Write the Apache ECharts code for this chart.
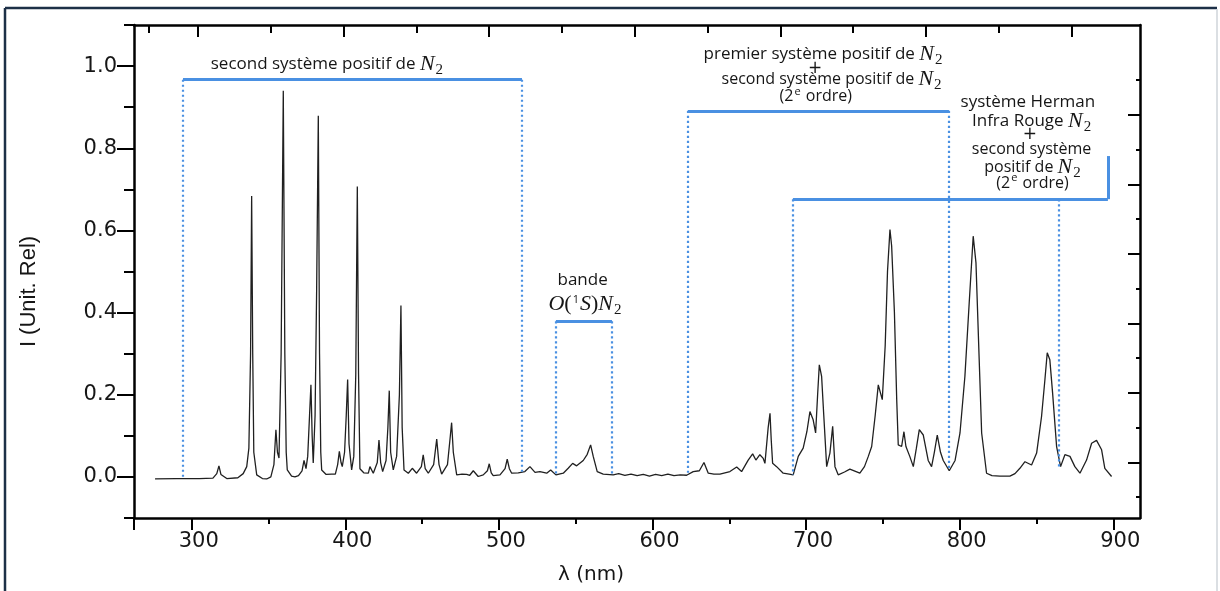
<!DOCTYPE html>
<html>
<head>
<meta charset="utf-8">
<script src="https://cdn.jsdelivr.net/npm/echarts@6/dist/echarts.min.js"></script>
<style>
  html, body {margin: 0; padding: 0; background: #fff;}
  #chart {width: 1220px; height: 591px;}
</style>
</head>
<body>
<div id="chart"></div>
<script>
// spectrum: [lambda (nm), I (unit. rel)]
const uvBand = [
  [276.1, -0.005], [290, -0.004], [305, -0.004], [313.8, -0.003], [316.3, 0.008], [317.7, 0.027], [319.0, 0.006],
  [322.8, -0.004], [330, -0.002], [333.5, 0.008], [335.8, 0.025], [337.2, 0.07], [338.3, 0.30], [339.0, 0.684],
  [339.7, 0.30], [340.4, 0.06], [342.3, 0.005], [346, -0.004], [348.8, -0.005], [351.5, 0.0], [353.5, 0.03],
  [354.8, 0.115], [355.8, 0.06], [356.8, 0.046], [358.2, 0.30], [359.6, 0.94], [360.6, 0.30], [361.5, 0.06],
  [362.2, 0.017], [365, 0.002], [367.2, 0.0],
]
const violetBand = [
  [369.5, 0.003], [371.8, 0.015], [373.1, 0.04], [374.4, 0.02], [375.5, 0.05], [376.7, 0.15], [377.6, 0.224],
  [378.4, 0.10], [379.1, 0.034], [380.3, 0.15], [381.3, 0.45], [382.4, 0.879], [383.2, 0.30], [384.0, 0.06],
  [384.6, 0.017], [387.5, 0.006], [391.1, 0.007], [393.5, 0.007], [395.0, 0.03], [396.1, 0.062], [397.2, 0.035],
  [398.0, 0.025], [399.5, 0.06], [400.6, 0.15], [401.5, 0.237], [402.4, 0.08], [404.1, 0.017], [405.5, 0.05],
  [406.8, 0.25], [407.8, 0.707], [408.6, 0.25], [409.5, 0.02], [412, 0.01], [415.0, 0.009], [416.0, 0.025],
  [418.2, 0.009], [420.8, 0.035], [421.9, 0.09], [423.0, 0.035], [424.3, 0.013], [426.5, 0.04], [427.7, 0.12],
  [428.6, 0.21], [429.5, 0.06], [431.2, 0.017], [433.4, 0.05], [435.2, 0.20], [436.2, 0.417], [437.0, 0.12],
  [438.2, 0.017], [441, 0.009], [443.6, 0.021], [446.4, 0.009], [449.5, 0.025], [450.7, 0.054], [452.0, 0.02],
  [454.0, 0.009], [457.5, 0.03], [459.5, 0.092], [461.0, 0.03], [462.7, 0.007], [466.5, 0.03], [468.1, 0.09],
  [469.2, 0.132], [470.3, 0.06], [472.5, 0.005],
]
const visibleBand = [
  [476, 0.007], [479.0, 0.006], [481, 0.004], [483.3, 0.015], [486.5, 0.001], [489.8, 0.005], [492.5, 0.015],
  [493.7, 0.032], [495, 0.01], [496.3, 0.003], [500.7, 0.005], [504, 0.02], [505.4, 0.043], [506.8, 0.02],
  [508.3, 0.009], [512.6, 0.01], [516.9, 0.013], [520.2, 0.025], [523.5, 0.011], [526.7, 0.013], [531.1, 0.009],
  [533.7, 0.017], [537.1, 0.005], [541.9, 0.009], [545.1, 0.021], [548.0, 0.033], [550.6, 0.027], [554.9, 0.04],
  [557.5, 0.055], [559.7, 0.078], [561.4, 0.05], [564.0, 0.013], [567.9, 0.007], [574.4, 0.005], [578, 0.008],
  [582, 0.004], [586, 0.007], [590, 0.003], [594, 0.006], [598, 0.002], [602, 0.006], [606, 0.003], [610, 0.007],
  [614, 0.003], [618, 0.005], [622.2, 0.004], [626.5, 0.013], [630.5, 0.015], [633.5, 0.035], [636.3, 0.009],
  [640, 0.007], [643.9, 0.007], [650.4, 0.013], [654.8, 0.024], [658.0, 0.013], [662.3, 0.041], [665.2, 0.056],
  [667.3, 0.041], [669.9, 0.054], [672.1, 0.045], [673.2, 0.033], [675.3, 0.12], [676.5, 0.155], [677.3, 0.09],
  [678.2, 0.033], [680.8, 0.025], [685.1, 0.009], [689, 0.007],
]
const nirBand = [
  [691.6, 0.005], [694.9, 0.05], [698.1, 0.07], [700.5, 0.11], [702.5, 0.159], [704.6, 0.139], [706.2, 0.107],
  [707.5, 0.2], [708.6, 0.273], [710.1, 0.245], [711.5, 0.15], [713.4, 0.025], [715.5, 0.058], [717.3, 0.123],
  [718.8, 0.025], [720.9, 0.005], [725, 0.012], [728.5, 0.019], [735.0, 0.009], [738, 0.025], [740.5, 0.05],
  [742.7, 0.074], [745, 0.15], [747.0, 0.224], [749.6, 0.188], [751.5, 0.32], [753.0, 0.5], [754.6, 0.602],
  [755.7, 0.562], [757.5, 0.4], [759.0, 0.188], [760.0, 0.078], [762.2, 0.074], [763.7, 0.11], [765.0, 0.074],
  [767.5, 0.05], [769.8, 0.025], [771.8, 0.07], [773.7, 0.115], [776.3, 0.102], [779.5, 0.04], [781.7, 0.025],
  [783.5, 0.06], [785.4, 0.102], [787.5, 0.06], [789.3, 0.04], [793.2, 0.015], [797, 0.04], [800.2, 0.107],
  [803.4, 0.245], [806.2, 0.424], [808.8, 0.586], [810.6, 0.521], [812.7, 0.285], [814.3, 0.107], [817.5, 0.009],
  [821, 0.003], [826.2, 0.002], [832.7, 0.002], [836, 0.008], [839.2, 0.021], [842.5, 0.037], [846.8, 0.029],
  [850.1, 0.058], [853.3, 0.147], [855.5, 0.237], [857.0, 0.302], [858.7, 0.285], [860.5, 0.204], [863.1, 0.074],
  [865.7, 0.025], [868.5, 0.054], [871.8, 0.05], [875.0, 0.025], [878.3, 0.009], [882.6, 0.041], [885.9, 0.082],
  [889.1, 0.089], [892.4, 0.066], [894.5, 0.021], [898.9, 0.001],
]

// axes
const xMin = 262.4
const xMax = 917.4
const wlLabels = [300, 400, 500, 600, 700, 800, 900]
const wlMinor = [350, 450, 550, 650, 750, 850]
const iLabels = [0, 0.2, 0.4, 0.6, 0.8, 1.0]
const iMinor = [-0.1, 0.1, 0.3, 0.5, 0.7, 0.9, 1.1]
// frame ticks of the original plot (top and right), in tick units
const topMin = -0.879
const topMax = 12.94
const topLong = [0, 2, 4, 6, 8, 10, 12]
const topShort = [-0.673, 1, 3, 5, 7, 9, 11]
const rightMin = -0.604
const rightMax = 13.583
const rightLong = [1, 3, 5, 7, 9, 11]
const rightShort = [0, 2, 4, 6, 8, 10, 12]

// brackets, in (nm, I)
const bracketSolid = [
  [[294.3, 0.967], [515.0, 0.967]],
  [[537.1, 0.379], [573.6, 0.379]],
  [[623.1, 0.891], [793.0, 0.891]],
  [[691.4, 0.676], [896.5, 0.676]],
  [[896.5, 0.676], [896.5, 0.781]],
]
const bracketDotted = [
  [[294.3, 0.967], [294.3, -0.004]],
  [[515.0, 0.967], [515.0, 0.01]],
  [[537.1, 0.379], [537.1, 0.005]],
  [[573.6, 0.379], [573.6, 0.005]],
  [[623.1, 0.891], [623.1, 0.01]],
  [[793.0, 0.891], [793.0, 0.022]],
  [[691.4, 0.676], [691.4, 0.005]],
  [[864.6, 0.676], [864.6, 0.025]],
]

const notes = [
  {at: [388, 1.005], text: '{t|second système positif de }{n|N}{s|2}'},
  {at: [554.5, 0.48], text: '{t|bande}'},
  {at: [556, 0.42], text: '{n|O}{r|(}{up|1}{n|S}{r|)}{n|N}{s|2}'},
  {at: [711, 1.029], text: '{t|premier système positif de }{n|N}{s|2}'},
  {at: [705.8, 0.995], text: '{p|+}'},
  {at: [716.6, 0.968], text: '{m|second système positif de }{n|N}{s|2}'},
  {at: [706.3, 0.925], text: '{m|(2}{up|e}{m| ordre)}'},
  {at: [844.4, 0.912], text: '{t|système Herman}'},
  {at: [846.8, 0.866], text: '{t|Infra Rouge }{n|N}{s|2}'},
  {at: [845.7, 0.834], text: '{p|+}'},
  {at: [846.8, 0.798], text: '{m|second système}'},
  {at: [847.4, 0.754], text: '{m|positif de }{n|N}{s|2}'},
  {at: [847.4, 0.715], text: '{m|(2}{up|e}{m| ordre)}'},
]

const blue = '#4a90e2'
const ink = '#161616'
const axisLine = {show: true, onZero: false, lineStyle: {color: '#000', width: 2.5}}
const noLine = {show: false, onZero: false}
const tickStyle = {color: '#000', width: 2}

const spectrum = [].concat(uvBand, violetBand, visibleBand, nirBand)

const markLines = [].concat(
  bracketSolid.map(([a, b]) => [
    {coord: a, lineStyle: {color: blue, width: 3, type: 'solid'}},
    {coord: b},
  ]),
  bracketDotted.map(([a, b]) => [
    {coord: a, lineStyle: {color: blue, width: 2.2, type: [2.2, 2.8]}},
    {coord: b},
  ]),
)

const option = {
  animation: false,
  backgroundColor: '#fff',
  grid: {left: 134, right: 80, top: 25, bottom: 73},
  xAxis: [
    {
      type: 'value', position: 'bottom', min: xMin, max: xMax,
      name: 'λ (nm)', nameLocation: 'middle', nameGap: 47,
      nameTextStyle: {fontFamily: 'DejaVu Sans', fontSize: 20, color: ink, padding: [0, 92, 0, 0]},
      axisLine,
      axisTick: {show: true, length: 12, lineStyle: tickStyle, customValues: [xMin].concat(wlLabels)},
      axisLabel: {
        customValues: wlLabels, fontFamily: 'DejaVu Sans', fontSize: 21, color: ink,
        margin: 13, padding: [0, 0, 0, 14],
      },
      splitLine: {show: false},
    },
    {
      type: 'value', position: 'bottom', min: xMin, max: xMax,
      axisLine: noLine,
      axisTick: {show: true, length: 6, lineStyle: tickStyle, customValues: wlMinor},
      axisLabel: {show: false},
      splitLine: {show: false},
    },
    {
      type: 'value', position: 'top', min: topMin, max: topMax,
      axisLine,
      axisTick: {show: true, inside: true, length: 12, lineStyle: tickStyle, customValues: topLong},
      axisLabel: {show: false},
      splitLine: {show: false},
    },
    {
      type: 'value', position: 'top', min: topMin, max: topMax,
      axisLine: noLine,
      axisTick: {show: true, inside: true, length: 8, lineStyle: tickStyle, customValues: topShort},
      axisLabel: {show: false},
      splitLine: {show: false},
    },
  ],
  yAxis: [
    {
      type: 'value', position: 'left', min: -0.1, max: 1.1,
      name: 'I (Unit. Rel)', nameLocation: 'middle', nameGap: 94,
      nameTextStyle: {fontFamily: 'Liberation Sans', fontSize: 22, color: ink, padding: [0, 40, 0, 0]},
      axisLine,
      axisTick: {show: true, length: 17, lineStyle: tickStyle, customValues: iLabels},
      axisLabel: {
        customValues: iLabels, fontFamily: 'DejaVu Sans', fontSize: 21, color: ink, margin: 17,
        formatter: (v) => v.toFixed(1),
      },
      splitLine: {show: false},
    },
    {
      type: 'value', position: 'left', min: -0.1, max: 1.1,
      axisLine: noLine,
      axisTick: {show: true, length: 10, lineStyle: tickStyle, customValues: iMinor},
      axisLabel: {show: false},
      splitLine: {show: false},
    },
    {
      type: 'value', position: 'right', min: rightMin, max: rightMax,
      axisLine,
      axisTick: {show: true, inside: true, length: 12, lineStyle: tickStyle, customValues: rightLong},
      axisLabel: {show: false},
      splitLine: {show: false},
    },
    {
      type: 'value', position: 'right', min: rightMin, max: rightMax,
      axisLine: noLine,
      axisTick: {show: true, inside: true, length: 4, lineStyle: tickStyle, customValues: rightShort},
      axisLabel: {show: false},
      splitLine: {show: false},
    },
  ],
  series: [
    {
      type: 'line',
      xAxisIndex: 0,
      yAxisIndex: 0,
      data: spectrum,
      symbol: 'none',
      lineStyle: {color: '#202020', width: 1.3},
      markLine: {
        silent: true,
        symbol: ['none', 'none'],
        label: {show: false},
        data: markLines,
      },
      z: 3,
    },
  ],
}

const chart = echarts.init(document.getElementById('chart'))
chart.setOption(option)

const serif = 'Liberation Serif'
const rich = {
  t: {fontFamily: 'Open Sans', fontSize: 17, fill: ink},
  m: {fontFamily: 'Open Sans', fontSize: 16, fill: ink},
  p: {fontFamily: 'DejaVu Sans', fontSize: 17, fill: ink},
  n: {fontFamily: serif, fontStyle: 'italic', fontSize: 22, fill: ink},
  r: {fontFamily: serif, fontSize: 22, fill: ink},
  s: {fontFamily: serif, fontSize: 15, fill: ink, padding: [12, 0, 0, 1]},
  up: {fontFamily: 'Open Sans', fontSize: 11, fill: ink, padding: [0, 1, 10, 1]},
}

const toPx = (p) => chart.convertToPixel({xAxisIndex: 0, yAxisIndex: 0}, p)

const frame = [
  {type: 'line', shape: {x1: 5, y1: 8, x2: 1217, y2: 8}, style: {stroke: '#1d3047', lineWidth: 2.5}},
  {type: 'line', shape: {x1: 5, y1: 8, x2: 5, y2: 591}, style: {stroke: '#1d3047', lineWidth: 2.5}},
  {type: 'line', shape: {x1: 1217, y1: 9, x2: 1217, y2: 591}, style: {stroke: '#cfd4da', lineWidth: 1.5}},
]

const noteTexts = notes.map((note) => {
  const [x, y] = toPx(note.at)
  return {
    type: 'text',
    x, y,
    z: 10,
    style: {text: note.text, rich, align: 'center', verticalAlign: 'middle'},
  }
})

chart.setOption({graphic: frame.concat(noteTexts)})
</script>
</body>
</html>
